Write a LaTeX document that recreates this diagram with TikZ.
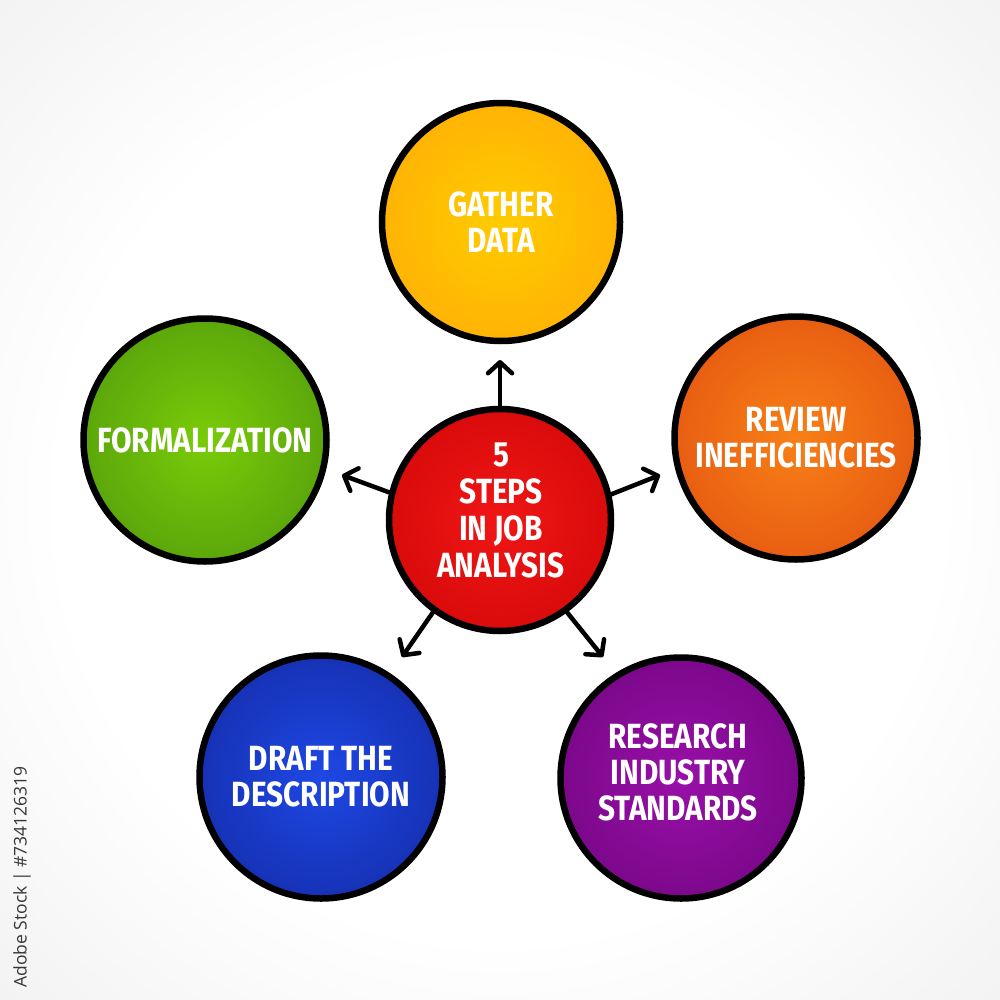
\documentclass[tikz,border=0pt]{standalone}
\usepackage{fontspec}
\setmainfont{Fira Sans}
\newfontfamily\labelfont[FakeStretch=0.85]{Fira Sans}
\newfontfamily\markfont{Open Sans}
\usetikzlibrary{arrows.meta}

\definecolor{bgEdge}{RGB}{218,218,218}
\definecolor{orIn}{RGB}{255,204,0}
\definecolor{orOut}{RGB}{255,155,8}
\definecolor{rdIn}{RGB}{240,22,22}
\definecolor{rdOut}{RGB}{196,0,0}
\definecolor{rvIn}{RGB}{248,128,22}
\definecolor{rvOut}{RGB}{216,60,14}
\definecolor{grIn}{RGB}{122,204,8}
\definecolor{grOut}{RGB}{60,130,14}
\definecolor{blIn}{RGB}{30,72,228}
\definecolor{blOut}{RGB}{14,28,136}
\definecolor{puIn}{RGB}{152,16,168}
\definecolor{puOut}{RGB}{96,0,110}
\definecolor{markGray}{RGB}{55,55,55}

\pgfdeclareradialshading{bgShade}{\pgfpoint{0bp}{0bp}}{color(0bp)=(white); color(22bp)=(white); color(50bp)=(bgEdge!70); color(72bp)=(bgEdge)}
\pgfdeclareradialshading{shOr}{\pgfpoint{0bp}{0bp}}{color(0bp)=(orIn); color(50bp)=(orOut)}
\pgfdeclareradialshading{shRd}{\pgfpoint{0bp}{0bp}}{color(0bp)=(rdIn); color(50bp)=(rdOut)}
\pgfdeclareradialshading{shRv}{\pgfpoint{0bp}{0bp}}{color(0bp)=(rvIn); color(50bp)=(rvOut)}
\pgfdeclareradialshading{shGr}{\pgfpoint{0bp}{0bp}}{color(0bp)=(grIn); color(50bp)=(grOut)}
\pgfdeclareradialshading{shBl}{\pgfpoint{0bp}{0bp}}{color(0bp)=(blIn); color(50bp)=(blOut)}
\pgfdeclareradialshading{shPu}{\pgfpoint{0bp}{0bp}}{color(0bp)=(puIn); color(50bp)=(puOut)}

\tikzset{
  labelstyle/.style={text=white, align=center, inner sep=0pt,
    font=\labelfont\bfseries\fontsize{35}{36}\selectfont},
  bubble/.style={circle, draw=black, line width=6.5pt, minimum size=#1,
    labelstyle},
  arr/.style={line width=4.5pt, line cap=round,
    -{Straight Barb[length=11pt,width=24pt,line width=4.5pt,round]}}
}

\begin{document}
\begin{tikzpicture}[x=1pt,y=-1pt]
\useasboundingbox (0,0) rectangle (1000,1000);
\shade[shading=bgShade] (0,0) rectangle (1000,1000);

\node[bubble=238pt, shading=shOr] (gather) at (501,222) {GATHER\\DATA};
\node[bubble=243pt, shading=shGr] (form) at (205,440) {FORMALIZATION};
\node[bubble=243pt, shading=shRv] (review) at (796,438) {REVIEW\\INEFFICIENCIES};
\node[bubble=243pt, shading=shBl] (draft) at (321,777) {DRAFT THE\\DESCRIPTION};
\node[bubble=241pt, shading=shPu] (research) at (681,778) {};
\node[labelstyle] (researchText) at (678,772) {RESEARCH\\INDUSTRY\\STANDARDS};
\node[bubble=222pt, shading=shRd] (center) at (500,520) {};
\node[labelstyle, font=\labelfont\bfseries\fontsize{35}{37}\selectfont] (centerText) at (501,510) {5\\STEPS\\IN JOB\\ANALYSIS};

\coordinate (tUp) at (500,360);
\coordinate (tRight) at (660,475);
\coordinate (tLeft) at (342,475);
\coordinate (tDL) at (402,657);
\coordinate (tDR) at (603,657);

\draw[arr] (center.north) -- (tUp);
\draw[arr] (center.13.5) -- (tRight);
\draw[arr] (center.166.5) -- (tLeft);
\draw[arr] (center.-126) -- (tDL);
\draw[arr] (center.-54) -- (tDR);

\node[rotate=90, text=markGray, font=\markfont\fontsize{17.5}{20}\selectfont] (mark) at (22,877) {Adobe Stock | \#734126319};
\end{tikzpicture}
\end{document}
